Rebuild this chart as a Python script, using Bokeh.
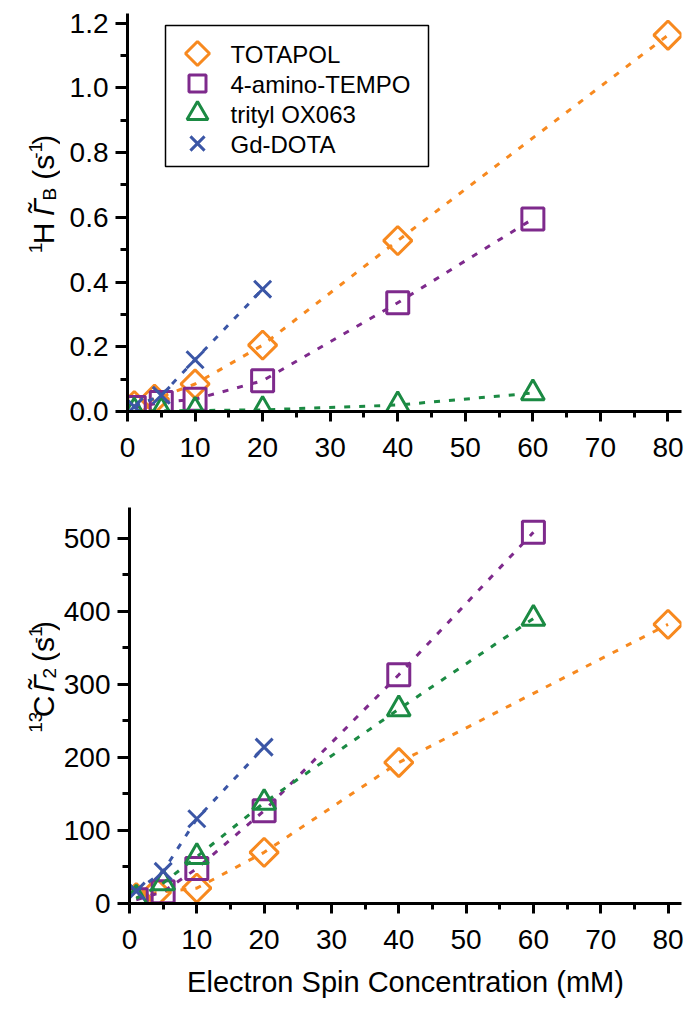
import math
from bokeh.plotting import figure
from bokeh.layouts import column, row
from bokeh.models import FixedTicker, PrintfTickFormatter, Range1d
from bokeh.core.properties import value
from bokeh.embed import file_html
from bokeh.resources import INLINE

# ---------------- data ----------------
series_names = ["TOTAPOL", "4-amino-TEMPO", "trityl OX063", "Gd-DOTA"]

totapol_conc = [1, 4, 10, 20, 40, 80]
totapol_h_gamma_b = [0.018, 0.038, 0.085, 0.205, 0.528, 1.163]
totapol_c_gamma_2 = [8, 15, 21, 70, 193, 382]

tempo_conc = [1, 5, 10, 20, 40, 60]
tempo_h_gamma_b = [0.012, 0.028, 0.038, 0.095, 0.336, 0.595]
tempo_c_gamma_2 = [5, 16, 48, 127, 313, 508]

trityl_conc = [1, 5, 10, 20, 40, 60]
trityl_h_gamma_b = [0.001, 0.002, 0.003, 0.005, 0.020, 0.057]
trityl_c_gamma_2 = [7, 28, 64, 138, 266, 390]

gd_conc = [1, 5, 10, 20]
gd_h_gamma_b = [0.015, 0.050, 0.160, 0.378]
gd_c_gamma_2 = [17, 44, 116, 214]

x_major_ticks = [0, 10, 20, 30, 40, 50, 60, 70, 80]
x_minor_ticks = [5, 15, 25, 35, 45, 55, 65, 75]
top_major_ticks = [0.0, 0.2, 0.4, 0.6, 0.8, 1.0, 1.2]
top_minor_ticks = [0.1, 0.3, 0.5, 0.7, 0.9, 1.1]
bot_major_ticks = [0, 100, 200, 300, 400, 500]
bot_minor_ticks = [50, 150, 250, 350, 450]

x_label = "Electron Spin Concentration (mM)"

# ---------------- style ----------------
FONT = "Liberation Sans"
colors = ["#F7891F", "#7E2A8C", "#1B8A43", "#3B56A6"]
marker_styles = [
    dict(marker="square", size=20, angle=math.pi / 4),
    dict(marker="square", size=22, angle=0.0),
    dict(marker="triangle", size=23, angle=0.0),
    dict(marker="x", size=24, angle=0.0),
]
legend_marker_styles = [
    dict(marker="square", size=17, angle=math.pi / 4),
    dict(marker="square", size=17, angle=0.0),
    dict(marker="triangle", size=21, angle=0.0),
    dict(marker="x", size=20, angle=0.0),
]

LW = 60                      # width of the strip that holds the rotated y titles
W, ML, MR = 630, 67, 9       # main plot (placed right of the strip)
H1, MT1, MB1 = 475, 13, 64
H2, MT2, MB2 = 536, 32, 108
XR = (0, 82)
YR1 = (0, 1.23)
YR2 = (0, 542)
FW = W - ML - MR
FH1 = H1 - MT1 - MB1
FH2 = H2 - MT2 - MB2


def make_conv(fig_top_page, mt, fh, yr):
    fx0 = LW + ML
    fyb = fig_top_page + mt + fh

    def conv(px, py):
        x = XR[0] + (px - fx0) / FW * (XR[1] - XR[0])
        y = yr[0] + (fyb - py) / fh * (yr[1] - yr[0])
        return x, y

    return conv


def make_fig(height, mt, mb, yr, ymaj, ymin, yfmt):
    p = figure(width=W, height=height, output_backend="svg", toolbar_location=None,
               x_range=Range1d(*XR), y_range=Range1d(*yr),
               min_border_left=ML, min_border_right=MR,
               min_border_top=mt, min_border_bottom=mb)
    p.outline_line_color = None
    p.xgrid.visible = False
    p.ygrid.visible = False
    p.background_fill_color = "white"
    p.border_fill_color = "white"
    for ax, maj, mn, tout, mout, sto in ((p.xaxis[0], x_major_ticks, x_minor_ticks, 10, 6, 16),
                                         (p.yaxis[0], ymaj, ymin, 12, 7, 7)):
        ax.ticker = FixedTicker(ticks=maj, minor_ticks=mn)
        ax.axis_line_width = 3
        ax.axis_line_color = "black"
        ax.major_tick_line_width = 3
        ax.minor_tick_line_width = 3
        ax.major_tick_in = 0
        ax.major_tick_out = tout
        ax.minor_tick_in = 0
        ax.minor_tick_out = mout
        ax.major_label_text_font = FONT
        ax.major_label_text_font_size = "28px"
        ax.major_label_text_color = "black"
        ax.major_label_standoff = sto
    p.yaxis[0].formatter = PrintfTickFormatter(format=yfmt)
    return p


def draw_series(p, xs_list, ys_list):
    for xs, ys, c, ms in zip(xs_list, ys_list, colors, marker_styles):
        p.line(xs, ys, line_color=c, line_width=3, line_dash="6 9")
        p.scatter(xs, ys, fill_color=None, line_color=c, line_width=3, **ms)


# char widths (em) for Arial-metric font
CW = {'1': .556, '2': .556, '3': .556, 'H': .722, 'C': .722, 'Γ': .556,
      'B': .667, '(': .333, 's': .5, '-': .333, ')': .333, '\u0303': 0.0}


def text_w(t, size):
    return sum(CW.get(ch, .556) for ch in t) * size


def title_strip(height, base_x, start_y, pieces):
    """Narrow figure whose frame is the whole canvas; 1 data unit = 1 px."""
    s = figure(width=LW, height=height, output_backend="svg", toolbar_location=None,
               x_range=Range1d(0, LW), y_range=Range1d(0, height),
               x_axis_location=None, y_axis_location=None,
               min_border_left=0, min_border_right=0, min_border_top=0, min_border_bottom=0)
    s.outline_line_color = None
    s.xgrid.visible = False
    s.ygrid.visible = False
    s.background_fill_color = "white"
    s.border_fill_color = "white"
    y = start_y
    for text, size, style, shift, gap in pieces:
        if text:
            s.text([base_x - shift], [height - y], text=[text], angle=math.pi / 2,
                   text_align="left", text_baseline="alphabetic",
                   text_font=value(FONT), text_font_size=value(f"{size}px"),
                   text_font_style=style, text_color="black")
        y -= text_w(text, size) + gap
    return s


MAIN, SUB = 30, 19

# ---------------- top panel ----------------
p1 = make_fig(H1, MT1, MB1, YR1, top_major_ticks, top_minor_ticks, "%.1f")
conv1 = make_conv(0, MT1, FH1, YR1)
draw_series(p1,
            [totapol_conc, tempo_conc, trityl_conc, gd_conc],
            [totapol_h_gamma_b, tempo_h_gamma_b, trityl_h_gamma_b, gd_h_gamma_b])

# legend (drawn manually so that the diamond stays rotated)
lx0, ly0 = conv1(165, 166)
lx1, ly1 = conv1(428, 25)
p1.quad(left=[lx0], right=[lx1], bottom=[ly0], top=[ly1],
        fill_color="white", line_color="black", line_width=1.5)
row_py = [53, 83, 113, 143]
for i, (name, c, ms) in enumerate(zip(series_names, colors, legend_marker_styles)):
    mx, my = conv1(197, row_py[i])
    p1.scatter([mx], [my], fill_color=None, line_color=c, line_width=3, **ms)
    tx, ty = conv1(230, row_py[i] + 1)
    p1.text([tx], [ty], text=[name], text_font=value(FONT), text_font_size=value("24px"),
            text_baseline="middle", text_align="left", text_color="black")

# pieces: (text, font px, style, baseline shift px (+ = superscript), extra gap px)
top_pieces = [
    ("1", SUB, "normal", 8, 0),
    ("H", MAIN, "normal", 0, 12),
    ("Γ\u0303", MAIN, "italic", 0, 2),
    ("B", SUB, "normal", -6, 12),
    ("(s", MAIN, "normal", 0, 0),
    ("-1", SUB, "normal", 8, 0),
    (")", MAIN, "normal", 0, 0),
]
s1 = title_strip(H1, 43, 286, top_pieces)

# ---------------- bottom panel ----------------
p2 = make_fig(H2, MT2, MB2, YR2, bot_major_ticks, bot_minor_ticks, "%d")
draw_series(p2,
            [totapol_conc, tempo_conc, trityl_conc, gd_conc],
            [totapol_c_gamma_2, tempo_c_gamma_2, trityl_c_gamma_2, gd_c_gamma_2])
p2.xaxis[0].axis_label = x_label
p2.xaxis[0].axis_label_text_font = FONT
p2.xaxis[0].axis_label_text_font_size = "29px"
p2.xaxis[0].axis_label_text_font_style = "normal"
p2.xaxis[0].axis_label_text_color = "black"
p2.xaxis[0].axis_label_standoff = 14

bot_pieces = [
    ("13", SUB, "normal", 8, 0),
    ("C", MAIN, "normal", 0, 12),
    ("Γ\u0303", MAIN, "italic", 0, 2),
    ("2", SUB, "normal", -6, 12),
    ("(s", MAIN, "normal", 0, 0),
    ("-1", SUB, "normal", 8, 0),
    (")", MAIN, "normal", 0, 0),
]
# bottom strip: its canvas starts at page y = H1
s2 = title_strip(H2, 43, 780 - H1, bot_pieces)

layout = column(row(s1, p1, spacing=0), row(s2, p2, spacing=0), spacing=0)
open("out.html", "w").write(file_html(layout, INLINE))
